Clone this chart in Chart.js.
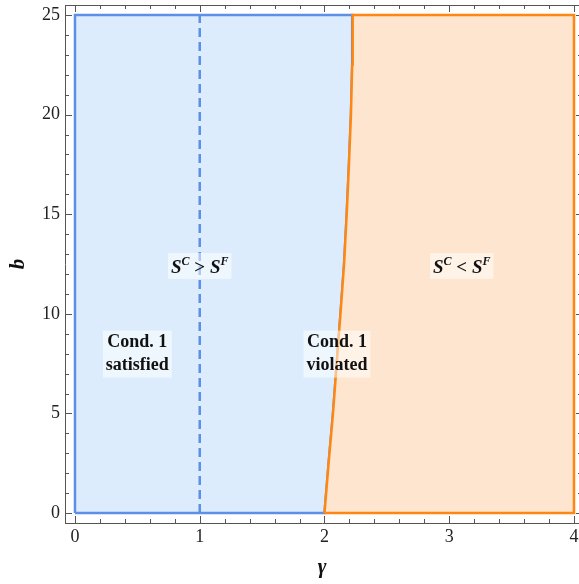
<!DOCTYPE html>
<html>
<head>
<meta charset="utf-8">
<script src="https://cdn.jsdelivr.net/npm/chart.js@4/dist/chart.umd.min.js"></script>
<style>
  html, body { margin: 0; padding: 0; background: #fff; }
  #wrap { width: 579px; height: 584px; }
</style>
</head>
<body>
<div id="wrap"><canvas id="regionChart"></canvas></div>
<script>
// axis ticks
const gammaTicks = [0, 1, 2, 3, 4];
const bTicks = [0, 5, 10, 15, 20, 25];

// region limits
const gammaMin = 0;
const gammaMax = 4;
const bMin = 0;
const bMax = 25;
const dashedGamma = 1;

// boundary between the two regions (Cond. 1 satisfied / violated)
const boundaryB     = [0, 2.5, 5, 7.5, 10, 12.5, 15, 17.5, 20, 22.5, 25];
const boundaryGamma = [2.0, 2.033, 2.068, 2.098, 2.128, 2.157, 2.178, 2.196, 2.212, 2.222, 2.226];

const FONT = '"Liberation Serif", "Times New Roman", serif';
const BLUE = '#5c8fe6';
const ORANGE = '#ff8610';

const boundaryPts = boundaryB.map((b, i) => ({ x: boundaryGamma[i], y: b }));

const bluePts = [
  { x: gammaMin, y: bMin },
  { x: gammaMin, y: bMax },
  ...boundaryPts.slice().reverse(),
  { x: gammaMin, y: bMin },
];
const orangePts = [
  ...boundaryPts,
  { x: gammaMax, y: bMax },
  { x: gammaMax, y: bMin },
  boundaryPts[0],
];
const dashedPts = [{ x: dashedGamma, y: bMin }, { x: dashedGamma, y: bMax }];

// text labels placed at (gamma, b)
const regionLabels = [
  { x: 1.0, y: 12.4, parts: [['S', 'bi'], ['C', 'sup'], [' > ', 'b'], ['S', 'bi'], ['F', 'sup']] },
  { x: 3.1, y: 12.4, parts: [['S', 'bi'], ['C', 'sup'], [' < ', 'b'], ['S', 'bi'], ['F', 'sup']] },
  { x: 0.5, y: 8.1, lines: ['Cond. 1', 'satisfied'] },
  { x: 2.1, y: 8.1, lines: ['Cond. 1', 'violated'] },
];

const framePlugin = {
  id: 'frame',
  afterDraw(chart) {
    const { ctx, chartArea: a, scales: { x, y } } = chart;
    ctx.save();
    ctx.strokeStyle = '#555';
    ctx.lineWidth = 1;
    ctx.beginPath();
    ctx.moveTo(a.left, a.top + 0.5);
    ctx.lineTo(a.right, a.top + 0.5);
    // x ticks, bottom and top, inward
    for (let v = 0; v <= 4.001; v += 0.2) {
      const px = Math.round(x.getPixelForValue(v)) + 0.5;
      const major = Math.abs(v - Math.round(v)) < 1e-6;
      const len = major ? 7 : 4;
      ctx.moveTo(px, a.bottom);
      ctx.lineTo(px, a.bottom - len);
      ctx.moveTo(px, a.top);
      ctx.lineTo(px, a.top + len);
    }
    // y ticks, left and right, inward
    for (let v = 0; v <= 25; v += 1) {
      const py = Math.round(y.getPixelForValue(v)) + 0.5;
      const major = v % 5 === 0;
      const len = major ? 7 : 4;
      ctx.moveTo(a.left, py);
      ctx.lineTo(a.left + len, py);
      ctx.moveTo(a.right, py);
      ctx.lineTo(a.right - (major ? 3 : 1), py);
    }
    ctx.stroke();
    ctx.restore();
  }
};

function partFont(kind) {
  if (kind === 'bi') return 'italic bold 19px ' + FONT;
  if (kind === 'sup') return 'italic bold 12px ' + FONT;
  return 'bold 19px ' + FONT;
}

const labelPlugin = {
  id: 'regionLabels',
  afterDatasetsDraw(chart) {
    const { ctx, scales: { x, y } } = chart;
    ctx.save();
    ctx.textBaseline = 'alphabetic';
    regionLabels.forEach(lab => {
      const cx = x.getPixelForValue(lab.x);
      const cy = y.getPixelForValue(lab.y);
      if (lab.parts) {
        let w = 0;
        const widths = lab.parts.map(([t, k]) => { ctx.font = partFont(k); const m = ctx.measureText(t).width; w += m; return m; });
        ctx.fillStyle = 'rgba(255,255,255,0.5)';
        ctx.fillRect(cx - w / 2 - 3, cy - 13, w + 6, 26);
        let px = cx - w / 2;
        lab.parts.forEach(([t, k], i) => {
          ctx.font = partFont(k);
          ctx.fillStyle = '#111';
          ctx.fillText(t, px, k === 'sup' ? cy - 1 : cy + 7);
          px += widths[i];
        });
      } else {
        ctx.font = 'bold 18px ' + FONT;
        const w = Math.max(...lab.lines.map(t => ctx.measureText(t).width));
        ctx.fillStyle = 'rgba(255,255,255,0.5)';
        ctx.fillRect(cx - w / 2 - 3, cy - 21, w + 6, 47);
        ctx.fillStyle = '#111';
        ctx.textAlign = 'center';
        lab.lines.forEach((t, i) => ctx.fillText(t, cx, cy - 5 + i * 23));
        ctx.textAlign = 'left';
      }
    });
    ctx.restore();
  }
};

new Chart(document.getElementById('regionChart').getContext('2d'), {
  type: 'line',
  data: {
    datasets: [
      {
        label: 'dashed',
        data: dashedPts,
        borderColor: BLUE,
        borderWidth: 2.5,
        borderDash: [9, 5],
        pointRadius: 0,
        fill: false,
      },
      {
        label: 'violated',
        data: orangePts,
        borderColor: ORANGE,
        backgroundColor: '#fee5cf',
        borderWidth: 2.5,
        pointRadius: 0,
        fill: 'shape',
      },
      {
        label: 'satisfied',
        data: bluePts,
        borderColor: BLUE,
        backgroundColor: '#dcecfd',
        borderWidth: 2.5,
        pointRadius: 0,
        fill: 'shape',
      },
    ],
  },
  options: {
    responsive: true,
    maintainAspectRatio: false,
    animation: false,
    layout: { padding: { top: 5, right: 0, left: 0, bottom: 0 } },
    plugins: { legend: { display: false }, tooltip: { enabled: false } },
    elements: { line: { tension: 0 } },
    scales: {
      x: {
        type: 'linear',
        min: -0.08,
        max: 4.04,
        afterBuildTicks: s => { s.ticks = gammaTicks.map(v => ({ value: v })); },
        afterFit: s => { s.height = 61; s.paddingLeft = 0; s.paddingRight = 0; },
        grid: { display: false, drawTicks: false },
        border: { display: true, color: '#555', width: 1 },
        ticks: { font: { family: FONT, size: 18 }, color: '#222', padding: 3, maxRotation: 0, autoSkip: false },
        title: { display: true, text: 'γ', font: { family: FONT, size: 21, style: 'italic', weight: 'bold' }, color: '#111', padding: { top: 0, bottom: 4 } },
      },
      y: {
        type: 'linear',
        min: -0.5,
        max: 25.5,
        afterBuildTicks: s => { s.ticks = bTicks.map(v => ({ value: v })); },
        afterFit: s => { s.width = 65; s.paddingTop = 0; s.paddingBottom = 0; },
        grid: { display: false, drawTicks: false },
        border: { display: true, color: '#555', width: 1 },
        ticks: { font: { family: FONT, size: 18 }, color: '#222', padding: 5, autoSkip: false },
        title: { display: true, text: 'b', font: { family: FONT, size: 21, style: 'italic', weight: 'bold' }, color: '#111', padding: { top: 6, bottom: 0 } },
      },
    },
  },
  plugins: [framePlugin, labelPlugin],
});
</script>
</body>
</html>
